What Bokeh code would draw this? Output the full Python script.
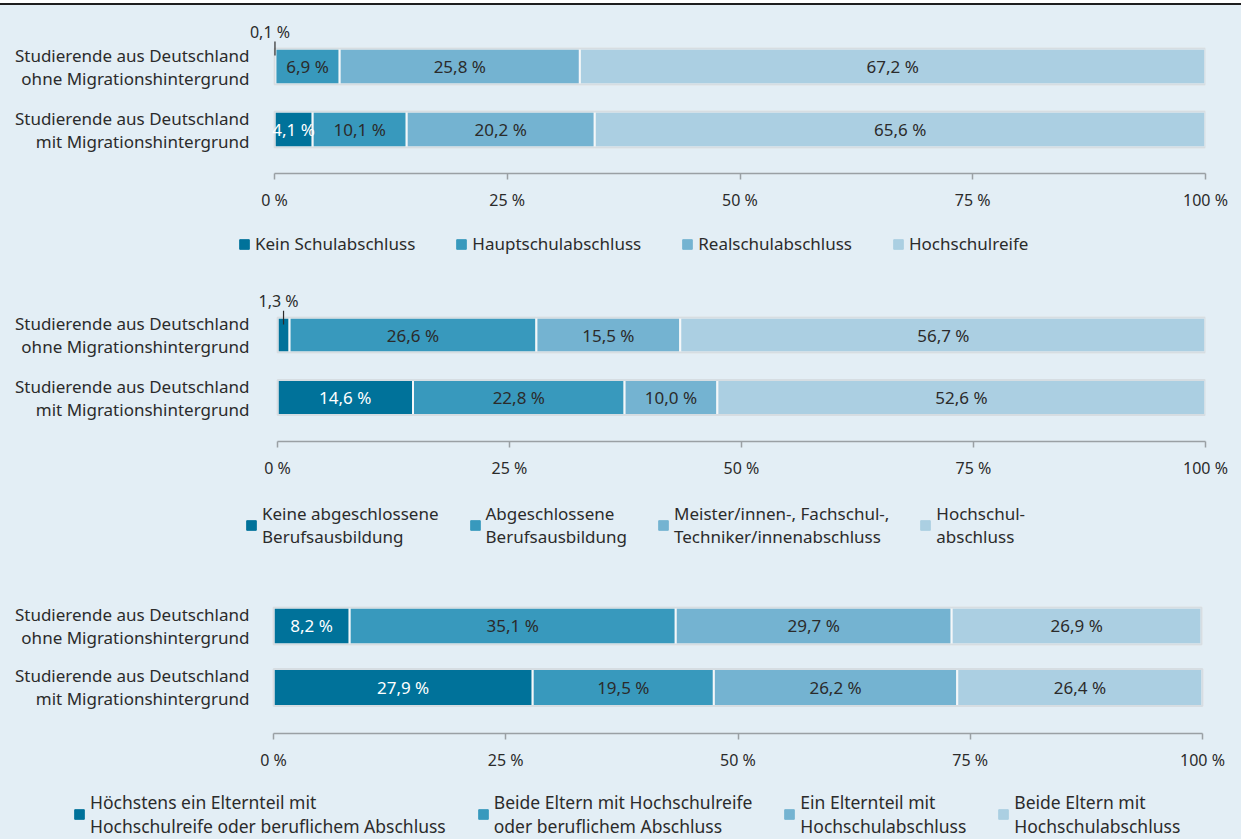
import numpy as np
from bokeh.plotting import figure
from bokeh.models import (ColumnDataSource, Range1d, FixedTicker, Legend, LegendItem)
from bokeh.layouts import column
from bokeh.core.properties import value
from bokeh.embed import file_html
from bokeh.resources import INLINE

# ---------------- data ----------------
row_labels = ["Studierende aus Deutschland\nohne Migrationshintergrund",
              "Studierende aus Deutschland\nmit Migrationshintergrund"]

schul_labels = ["Kein Schulabschluss", "Hauptschulabschluss",
                "Realschulabschluss", "Hochschulreife"]
schul_ohne = [0.1, 6.9, 25.8, 67.2]
schul_mit = [4.1, 10.1, 20.2, 65.6]

beruf_labels = ["Keine abgeschlossene\nBerufsausbildung", "Abgeschlossene\nBerufsausbildung",
                "Meister/innen-, Fachschul-,\nTechniker/innenabschluss", "Hochschul-\nabschluss"]
beruf_ohne = [1.3, 26.6, 15.5, 56.7]
beruf_mit = [14.6, 22.8, 10.0, 52.6]

eltern_labels = ["Höchstens ein Elternteil mit\nHochschulreife oder beruflichem Abschluss",
                 "Beide Eltern mit Hochschulreife\noder beruflichem Abschluss",
                 "Ein Elternteil mit\nHochschulabschluss",
                 "Beide Eltern mit\nHochschulabschluss"]
eltern_ohne = [8.2, 35.1, 29.7, 26.9]
eltern_mit = [27.9, 19.5, 26.2, 26.4]

tick_values = [0, 25, 50, 75, 100]
tick_labels = ["0 %", "25 %", "50 %", "75 %", "100 %"]

# ---------------- style ----------------
BG = "#e3eef5"
COLORS = ["#00729a", "#3899bd", "#74b3d1", "#abcfe2"]
TXT = "#2b2b2b"
FONT = "Noto Sans"
ROW_POS = [1.5, 0.5]   # ohne on top, mit below
W = 1241
FRAME_L = 10
FRAME_R = 1205
LABEL_EDGE = 249


def fmt(v):
    return f"{v:.1f}".replace(".", ",") + " %"


def base_fig(height, **kw):
    p = figure(width=W, height=height, output_backend="svg", toolbar_location=None,
               min_border_left=FRAME_L, min_border_right=W - FRAME_R, **kw)
    p.background_fill_color = BG
    p.border_fill_color = BG
    p.outline_line_color = None
    p.grid.grid_line_color = None
    return p


def chart(ohne, mit, height, x0px, x100px, top, bottom, y_rng, bar_h):
    k = (x100px - x0px) / 100.0
    xstart = -(x0px - FRAME_L) / k
    xend = 100 + (FRAME_R - x100px) / k
    p = base_fig(height, x_range=Range1d(xstart, xend), y_range=Range1d(*y_rng),
                 min_border_top=top, min_border_bottom=bottom, y_axis_location=None)

    keys = [f"s{i}" for i in range(4)]
    data = {"y": ROW_POS}
    for i, kk in enumerate(keys):
        data[kk] = [ohne[i], mit[i]]
    src = ColumnDataSource(data)
    p.hbar_stack(keys, y="y", height=bar_h, color=COLORS, source=src,
                 line_color="#f4f7f9", line_width=2)
    totals = [sum(ohne), sum(mit)]
    p.hbar(y=ROW_POS, left=0, right=totals, height=bar_h, fill_color=None,
           line_color="#d6dde2", line_width=2)

    # row labels (right aligned, left of the bars)
    p.text(x=[0] * len(row_labels), y=ROW_POS, text=row_labels, text_align="right",
           text_baseline="middle", x_offset=-(x0px - LABEL_EDGE), text_color=TXT,
           text_font=value(FONT), text_font_size="17px", text_line_height=1.0)

    lx, ly, lt, lc = [], [], [], []
    sx, st, s0, s1 = [], [], [], []
    for vals, yp in zip([ohne, mit], ROW_POS):
        cum = np.cumsum([0] + list(vals))
        for i, v in enumerate(vals):
            mid = (cum[i] + cum[i + 1]) / 2
            if v < 2:
                sx.append(mid); st.append(fmt(v))
                s0.append(yp + bar_h / 2 + 0.11); s1.append(yp + bar_h / 2 - 0.11)
            else:
                lx.append(mid); ly.append(yp); lt.append(fmt(v))
                lc.append("white" if i == 0 else TXT)
    p.text(x=lx, y=ly, text=lt, text_color=lc, text_align="center",
           text_baseline="middle", text_font=value(FONT), text_font_size="17px")
    if sx:
        p.segment(x0=sx, x1=sx, y0=s0, y1=s1, line_color=TXT, line_width=1.2)
        p.text(x=sx, y=s0, text=st, text_color=TXT, text_align="center",
               text_baseline="bottom", x_offset=-5, y_offset=1,
               text_font=value(FONT), text_font_size="16px")

    xa = p.xaxis[0]
    xa.bounds = (0, 100)
    xa.ticker = FixedTicker(ticks=tick_values)
    xa.major_label_overrides = {t: l for t, l in zip(tick_values, tick_labels)}
    xa.axis_line_color = "#9aa0a4"
    xa.axis_line_width = 1.5
    xa.major_tick_line_color = "#9aa0a4"
    xa.major_tick_line_width = 1.5
    xa.major_tick_in = 0
    xa.major_tick_out = 6
    xa.minor_tick_line_color = None
    xa.major_label_standoff = 9
    xa.major_label_text_font = FONT
    xa.major_label_text_font_size = "16px"
    xa.major_label_text_color = TXT
    return p


def legend_fig(labels, height, square_px, y_px, spacing, font_size):
    p = base_fig(height, x_range=Range1d(0, 1), y_range=Range1d(0, 1),
                 x_axis_location=None, y_axis_location=None,
                 min_border_top=0, min_border_bottom=0)
    items = []
    for lab, col in zip(labels, COLORS):
        # swatch renderer kept outside the visible range; only its legend entry shows
        r = p.hbar(y=[-1], left=[0], right=[1], height=0.5, color=col)
        items.append(LegendItem(label=lab, renderers=[r]))
    leg = Legend(items=items, orientation="horizontal",
                 location=(square_px - FRAME_L, y_px),
                 padding=0, margin=0, spacing=spacing,
                 glyph_width=12, glyph_height=12, label_standoff=5,
                 label_text_font=FONT, label_text_font_size=font_size,
                 label_text_color=TXT, label_text_line_height=0.92,
                 background_fill_alpha=0, border_line_color=None)
    p.add_layout(leg)
    return p


c1 = chart(schul_ohne, schul_mit, 217, 274, 1205, 13, 49, (-0.198, 2.262), 0.57)
l1 = legend_fig(schul_labels, 43, 238, 10, 40, "17px")
c2 = chart(beruf_ohne, beruf_mit, 225, 277, 1205, 10, 49, (-0.204, 2.452), 0.56)
l2 = legend_fig(beruf_labels, 70, 245, 12, 30, "17px")
c3 = chart(eltern_ohne, eltern_mit, 220, 273, 1202, 10, 47, (-0.248, 2.402), 0.6)
l3 = legend_fig(eltern_labels, 59, 73, 1, 31, "17.5px")

layout = column(c1, l1, c2, l2, c3, l3, spacing=0)
layout.styles = {"border-top": "2px solid #1e1e1e", "margin-top": "3px",
                 "background-color": BG}
open("out.html", "w").write(file_html(layout, INLINE))
